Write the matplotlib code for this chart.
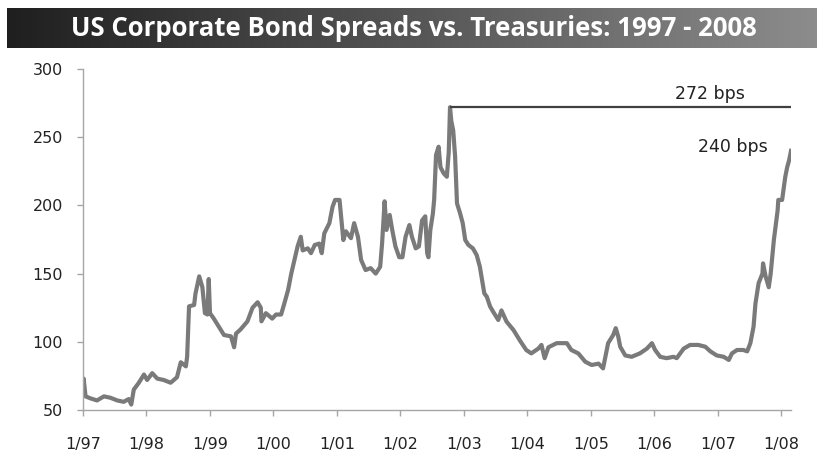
import numpy as np
import matplotlib
matplotlib.use("Agg")
import matplotlib.pyplot as plt
from matplotlib.colors import LinearSegmentedColormap


# ======================================================
# DATA (decimal years)
# ======================================================
dates = [
    1997.00, 1997.01, 1997.04, 1997.12, 1997.22, 1997.33, 1997.43, 1997.54,
    1997.64, 1997.72, 1997.76, 1997.80, 1997.88, 1997.96, 1998.01, 1998.09,
    1998.17, 1998.27, 1998.38, 1998.48, 1998.54, 1998.62, 1998.64, 1998.67,
    1998.75, 1998.77, 1998.83, 1998.88, 1998.92, 1998.96, 1998.98, 1999.00,
    1999.06, 1999.14, 1999.22, 1999.33, 1999.38, 1999.41, 1999.48, 1999.59,
    1999.67, 1999.75, 1999.80, 1999.81, 1999.88, 1999.98, 2000.04, 2000.12,
    2000.17, 2000.23, 2000.28, 2000.33, 2000.38, 2000.43, 2000.46, 2000.54,
    2000.59, 2000.65, 2000.72, 2000.76, 2000.80, 2000.88, 2000.93, 2000.97,
    2001.04, 2001.06, 2001.10, 2001.14, 2001.22, 2001.27, 2001.33, 2001.38,
    2001.45, 2001.53, 2001.61, 2001.68, 2001.71, 2001.75, 2001.78, 2001.83,
    2001.87, 2001.92, 2001.98, 2002.03, 2002.08, 2002.14, 2002.18, 2002.24,
    2002.29, 2002.34, 2002.39, 2002.42, 2002.44, 2002.47, 2002.51, 2002.53,
    2002.56, 2002.60, 2002.63, 2002.68, 2002.73, 2002.76, 2002.78, 2002.80,
    2002.83, 2002.86, 2002.89, 2002.94, 2002.98, 2003.02, 2003.07, 2003.14,
    2003.20, 2003.25, 2003.32, 2003.36, 2003.41, 2003.46, 2003.54, 2003.59,
    2003.67, 2003.78, 2003.88, 2003.98, 2004.06, 2004.17, 2004.22, 2004.27,
    2004.33, 2004.46, 2004.62, 2004.69, 2004.80, 2004.91, 2005.01, 2005.12,
    2005.19, 2005.27, 2005.35, 2005.39, 2005.43, 2005.46, 2005.54, 2005.64,
    2005.77, 2005.88, 2005.96, 2006.01, 2006.09, 2006.19, 2006.30, 2006.35,
    2006.46, 2006.56, 2006.69, 2006.80, 2006.88, 2006.98, 2007.09, 2007.17,
    2007.22, 2007.30, 2007.40, 2007.46, 2007.51, 2007.56, 2007.59, 2007.64,
    2007.70, 2007.71, 2007.75, 2007.80, 2007.83, 2007.88, 2007.94, 2007.95,
    2008.01, 2008.06, 2008.09, 2008.12, 2008.15,
]

spreads = [
    62, 73, 60, 58.5, 57, 60, 59, 57,
    56, 58, 54, 65, 70, 76, 72, 77,
    73, 72, 70, 74, 85, 82, 89, 126,
    127, 135, 148, 140, 121, 120, 146, 121,
    117, 111, 105, 104, 96, 106, 109, 115,
    125, 129, 125, 115, 121, 117, 120, 120,
    128, 138, 150, 160, 170, 177, 167, 168.5,
    165, 171, 172, 165, 179.5, 187, 199, 204,
    204, 194, 174.6, 181, 176, 187, 177, 160,
    152.6, 154, 150, 155, 172, 203, 182, 193,
    182, 170, 162, 162, 177, 185.6, 177, 168.5,
    170, 189, 192, 165, 162, 182, 194, 204,
    237, 243, 228, 223.5, 221, 239, 272, 262,
    255, 236, 201.5, 194, 187, 174.6, 171, 168.5,
    163.6, 155, 135.5, 133, 126, 122, 116, 123,
    114.8, 108.6, 101, 94, 91.5, 95, 97.7, 88,
    96, 99, 99, 94, 91.5, 85.4, 83, 84,
    80.5, 99, 105, 110, 103.7, 96.4, 90, 89,
    91.5, 95, 99, 94, 89, 88, 89, 88,
    95, 97.7, 97.7, 96.4, 93, 90, 89, 86.7,
    91.5, 94, 94, 93, 99, 111, 128, 143,
    150, 157.5, 148, 140, 150, 174.6, 196.6, 204,
    204, 221, 228, 233, 240,
]

tick_years = list(range(1997, 2009))
tick_labels = ["1/%02d" % (y % 100) for y in tick_years]

peak_value = 272
last_value = 240
peak_label = "272 bps"
last_label = "240 bps"

title = "US Corporate Bond Spreads vs. Treasuries: 1997 - 2008"


# ======================================================
# FIGURE
# ======================================================
fig = plt.figure(figsize=(8.17, 4.55), dpi=100)

# Title bar with dark-to-grey gradient
bar_ax = fig.add_axes([7 / 817, 1 - 48 / 455, 810 / 817, 40 / 455])
bar_cmap = LinearSegmentedColormap.from_list("bar", ["#1f1f1f", "#8c8c8c"])
bar_ax.imshow(
    np.linspace(0, 1, 256).reshape(1, -1),
    cmap=bar_cmap,
    aspect="auto",
    extent=[0, 1, 0, 1]
)
bar_ax.set_axis_off()

fig.text(
    0.506, 1 - 28 / 455,
    title,
    color="white",
    fontsize=18.5,
    fontweight="bold",
    family="Open Sans",
    ha="center",
    va="center"
)


# ======================================================
# LINE CHART
# ======================================================
ax = fig.add_axes([83 / 817, 45 / 455, 708 / 817, 341 / 455])

ax.plot(dates, spreads, color="#7a7a7a", linewidth=3.0,
        solid_joinstyle="round")

# Reference line from the 2002 peak to the latest point
peak_date = dates[spreads.index(peak_value)]
ax.hlines(peak_value, peak_date, dates[-1], color="#404040", linewidth=1.6)

ax.text(2006.87, 281.5, peak_label, ha="center", va="center",
        fontsize=12.5, color="#222222")
ax.text(2007.24, 243, last_label, ha="center", va="center",
        fontsize=12.5, color="#222222")

# Axes
ax.set_xlim(1997.0, dates[-1])
ax.set_ylim(50, 300)
ax.set_yticks([50, 100, 150, 200, 250, 300])
ax.set_xticks(tick_years)
ax.set_xticklabels(tick_labels)

for side in ["top", "right"]:
    ax.spines[side].set_visible(False)
for side in ["left", "bottom"]:
    ax.spines[side].set_color("#a6a6a6")
    ax.spines[side].set_linewidth(1.0)

ax.tick_params(axis="both", colors="#a6a6a6", labelcolor="#222222",
               labelsize=11.5, length=4.5, width=1.0)
ax.tick_params(axis="x", pad=15)
ax.tick_params(axis="y", pad=10)

# Save
plt.savefig("out.png", dpi=100)
